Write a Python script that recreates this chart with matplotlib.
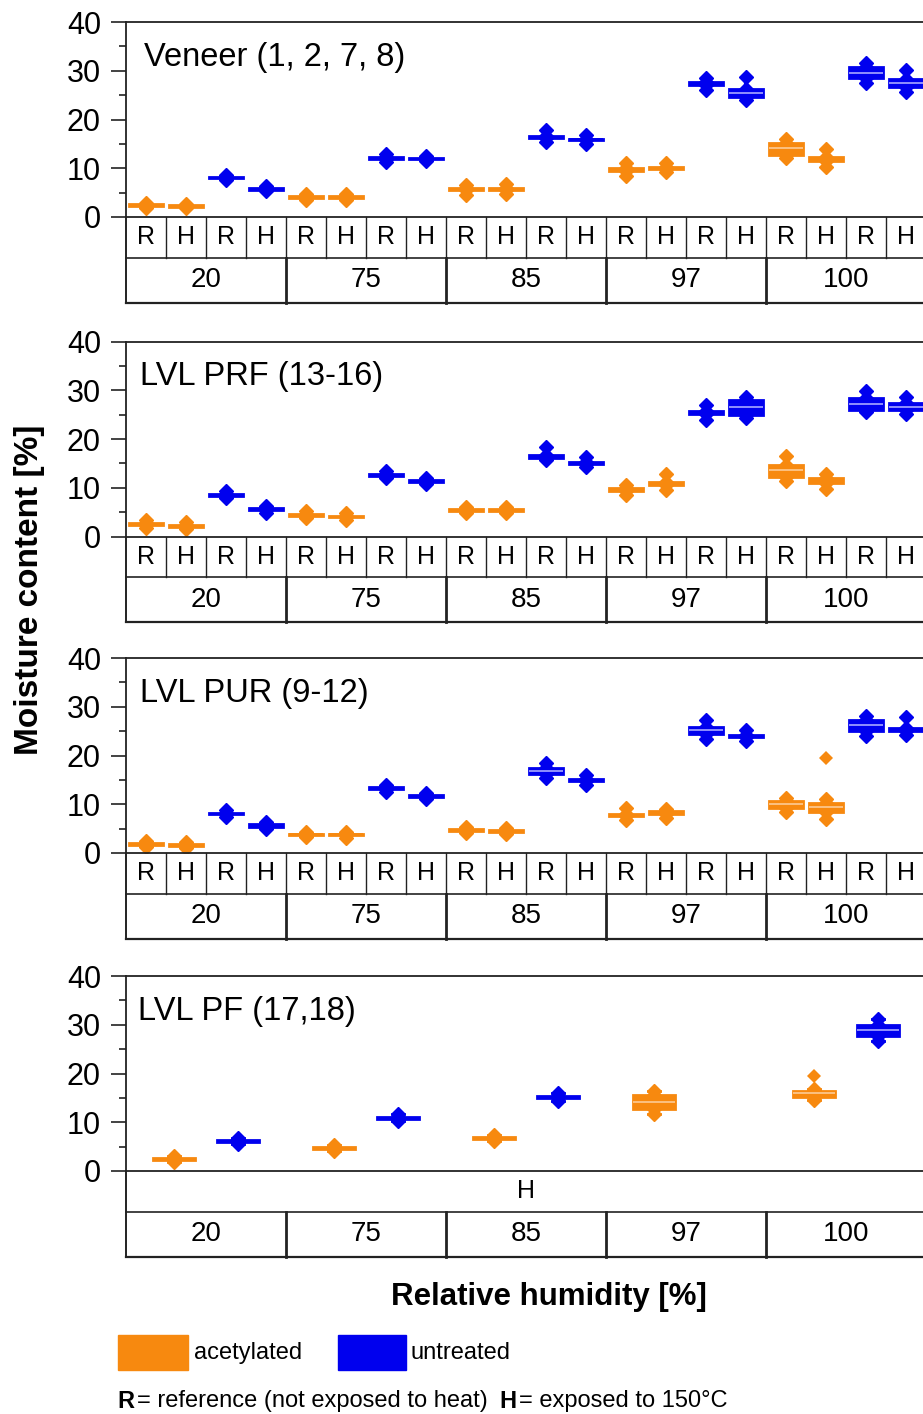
import numpy as np
import matplotlib
matplotlib.use('Agg')
import matplotlib.pyplot as plt
from matplotlib.patches import Rectangle

plt.rcParams['font.family'] = ['Liberation Sans', 'DejaVu Sans']

ORANGE = '#F7890F'
BLUE = '#0000EE'
ORANGE_LT = '#FCC58A'
BLUE_LT = '#9A9AFF'
LINE = '#222222'

# x categories
rh_levels = ['20', '75', '85', '97', '100']
treat_row = ['R', 'H', 'R', 'H']
# box order in each RH group: acetylated R, acetylated H, untreated R, untreated H
kind_row = ['a', 'a', 'u', 'u']

# Veneer (1, 2, 7, 8)
ven_med = [2.4, 2.3, 8.1, 5.8, 4.1, 4.1, 12.1, 12.0, 5.7, 5.8, 16.4, 15.9, 9.8, 10.1, 27.3, 25.5, 14.1, 11.9, 29.6, 27.4]
ven_q1 = [2.2, 2.1, 7.9, 5.6, 3.9, 3.9, 11.9, 11.8, 5.5, 5.6, 16.2, 15.7, 9.5, 9.9, 27.0, 24.6, 12.8, 11.4, 28.6, 26.6]
ven_q3 = [2.6, 2.5, 8.3, 6.0, 4.3, 4.3, 12.3, 12.2, 5.9, 6.0, 16.6, 16.1, 10.1, 10.3, 27.6, 26.3, 15.2, 12.3, 30.8, 28.4]
ven_lo = [1.9, 1.9, 7.5, 5.3, 3.4, 3.5, 11.2, 11.4, 4.6, 4.7, 15.3, 15.0, 8.4, 9.2, 26.0, 23.9, 12.2, 10.2, 27.4, 25.6]
ven_hi = [2.8, 2.7, 8.6, 6.3, 4.7, 4.7, 13.0, 12.6, 6.5, 6.7, 17.8, 16.8, 11.1, 11.1, 28.6, 28.8, 15.9, 14.0, 31.6, 30.2]

# LVL PRF (13-16)
prf_med = [2.6, 2.2, 8.6, 5.6, 4.5, 4.1, 12.7, 11.3, 5.5, 5.5, 16.4, 15.1, 9.6, 10.8, 25.5, 26.6, 13.6, 11.5, 27.1, 26.6]
prf_q1 = [2.4, 2.0, 8.4, 5.4, 4.3, 3.9, 12.5, 11.1, 5.3, 5.3, 16.1, 14.9, 9.3, 10.5, 25.2, 25.0, 12.3, 11.0, 25.9, 26.0]
prf_q3 = [2.8, 2.4, 8.8, 5.8, 4.7, 4.3, 12.9, 11.5, 5.7, 5.7, 16.7, 15.3, 9.9, 11.1, 25.8, 27.9, 14.7, 11.9, 28.4, 27.3]
prf_lo = [1.8, 1.5, 8.0, 4.9, 3.7, 3.4, 12.0, 10.7, 4.9, 4.9, 15.6, 14.2, 8.6, 9.6, 24.0, 24.3, 11.3, 9.8, 25.5, 25.2]
prf_hi = [3.3, 2.9, 9.3, 6.3, 5.2, 4.8, 13.4, 11.9, 6.1, 6.1, 18.3, 16.3, 10.6, 12.8, 26.9, 28.7, 16.6, 12.8, 29.9, 28.6]

# LVL PUR (9-12)
pur_med = [1.8, 1.6, 8.1, 5.7, 3.8, 3.8, 13.3, 11.6, 4.8, 4.6, 16.8, 14.9, 7.8, 8.3, 25.3, 24.0, 10.0, 9.4, 26.2, 25.3]
pur_q1 = [1.6, 1.4, 7.9, 5.4, 3.6, 3.6, 13.1, 11.4, 4.6, 4.4, 16.2, 14.7, 7.5, 8.0, 24.4, 23.8, 9.3, 8.4, 25.0, 25.0]
pur_q3 = [2.0, 1.8, 8.3, 6.0, 4.0, 4.0, 13.5, 11.8, 5.0, 4.8, 17.4, 15.1, 8.1, 8.6, 25.9, 24.2, 10.6, 10.2, 27.3, 25.6]
pur_lo = [1.2, 1.0, 7.4, 5.0, 3.2, 3.1, 12.6, 11.0, 4.2, 4.0, 15.3, 13.9, 6.8, 7.2, 23.4, 22.9, 8.4, 7.0, 24.1, 24.3]
pur_hi = [2.4, 2.2, 8.9, 6.4, 4.4, 4.4, 14.0, 12.3, 5.4, 5.2, 18.4, 16.0, 9.2, 9.0, 27.3, 25.2, 11.2, 11.0, 28.1, 27.8]
pur_fliers = {17: [19.5]}

# LVL PF (17,18) - only H, one or two boxes per RH
pf_group = [0, 0, 1, 1, 2, 2, 3, 4, 4]
pf_kind = ['a', 'u', 'a', 'u', 'a', 'u', 'a', 'a', 'u']
pf_med = [2.5, 6.1, 4.8, 10.9, 6.8, 15.2, 14.2, 15.9, 28.9]
pf_q1 = [2.3, 5.9, 4.6, 10.7, 6.6, 15.0, 12.7, 15.2, 27.7]
pf_q3 = [2.7, 6.3, 5.0, 11.1, 7.0, 15.4, 15.6, 16.4, 30.0]
pf_lo = [1.9, 5.5, 4.2, 10.2, 6.2, 14.3, 11.6, 14.6, 26.6]
pf_hi = [3.1, 6.7, 5.4, 11.6, 7.4, 16.1, 16.5, 16.8, 31.2]
pf_fliers = {7: [19.5]}


def draw_boxes(ax, med, q1, q3, lo, hi, pos, kinds, width, fliers):
    stats = []
    for i in range(len(med)):
        stats.append(dict(med=med[i], q1=q1[i], q3=q3[i], whislo=lo[i], whishi=hi[i],
                          fliers=fliers.get(i, [])))
    bp = ax.bxp(stats, positions=pos, widths=width, patch_artist=True, showfliers=True,
                capwidths=width * 0.3,
                whiskerprops=dict(linewidth=3, marker='D', markersize=7),
                capprops=dict(linewidth=2),
                medianprops=dict(linewidth=1.3),
                flierprops=dict(marker='D', markersize=7, markeredgewidth=0),
                boxprops=dict(linewidth=2))
    for i in range(len(med)):
        c = ORANGE if kinds[i] == 'a' else BLUE
        lt = ORANGE_LT if kinds[i] == 'a' else BLUE_LT
        bp['boxes'][i].set_facecolor(c)
        bp['boxes'][i].set_edgecolor(c)
        for ln in bp['whiskers'][2 * i:2 * i + 2] + bp['caps'][2 * i:2 * i + 2]:
            ln.set_color(c)
            ln.set_markerfacecolor(c)
            ln.set_markeredgecolor(c)
        bp['medians'][i].set_color(lt if q3[i] - q1[i] > 1.0 else c)
        bp['fliers'][i].set_markerfacecolor(c)


def style_axis(ax, title, tx):
    ax.set_xlim(0, 20)
    ax.set_ylim(0, 40)
    ax.set_xticks([])
    ax.set_yticks([0, 10, 20, 30, 40])
    ax.set_yticks([5, 15, 25, 35], minor=True)
    ax.tick_params(axis='y', which='major', direction='out', length=11, width=1.2,
                   labelsize=22, pad=7, color=LINE)
    ax.tick_params(axis='y', which='minor', direction='out', length=5, width=1.2, color=LINE)
    for s in ax.spines.values():
        s.set_linewidth(1.3)
        s.set_color(LINE)
    ax.text(tx, 0.82, title, transform=ax.get_xaxis_transform(), fontsize=23.5,
            ha='left', va='center')


def draw_table(ax, full):
    tr = ax.get_xaxis_transform()
    r1 = -0.21
    r2 = -0.44
    kw = dict(transform=tr, clip_on=False, color=LINE)
    ax.plot([0, 20], [r1, r1], lw=1.2, **kw)
    ax.plot([0, 20], [r2, r2], lw=1.6, **kw)
    ax.plot([0, 0], [0, r2], lw=1.4, **kw)
    ax.plot([20, 20], [0, r2], lw=1.4, **kw)
    for k in range(1, 20):
        if full:
            ax.plot([k, k], [0, r1], lw=1.0, **kw)
        if k % 4 == 0:
            ax.plot([k, k], [r1, r2], lw=2.0, **kw)
    if full:
        for k in range(20):
            ax.text(k + 0.5, r1 / 2, treat_row[k % 4], transform=tr, fontsize=18,
                    ha='center', va='center')
    else:
        ax.text(10, r1 / 2, 'H', transform=tr, fontsize=18, ha='center', va='center')
    for g in range(5):
        ax.text(4 * g + 2, (r1 + r2) / 2, rh_levels[g], transform=tr, fontsize=20,
                ha='center', va='center')


W, H = 923, 1414
fig = plt.figure(figsize=(W / 100, H / 100), dpi=100)

left = 126 / W
width = 800 / W
ax_h = 195 / H
bottoms = [217, 536.5, 853, 1171]
axes = [fig.add_axes([left, 1 - b / H, width, ax_h]) for b in bottoms]

slot_pos = [i + 0.5 for i in range(20)]
slot_kind = [kind_row[i % 4] for i in range(20)]

panels = [
    ('Veneer (1, 2, 7, 8)', 0.45, ven_med, ven_q1, ven_q3, ven_lo, ven_hi, {}),
    ('LVL PRF (13-16)', 0.35, prf_med, prf_q1, prf_q3, prf_lo, prf_hi, {}),
    ('LVL PUR (9-12)', 0.35, pur_med, pur_q1, pur_q3, pur_lo, pur_hi, pur_fliers),
]
for ax, (title, tx, med, q1, q3, lo, hi, fl) in zip(axes[:3], panels):
    draw_boxes(ax, med, q1, q3, lo, hi, slot_pos, slot_kind, 0.85, fl)
    style_axis(ax, title, tx)
    draw_table(ax, True)

pf_pos = [4 * g + (1.2 if k == 'a' else 2.8) for g, k in zip(pf_group, pf_kind)]
draw_boxes(axes[3], pf_med, pf_q1, pf_q3, pf_lo, pf_hi, pf_pos, pf_kind, 1.05, pf_fliers)
style_axis(axes[3], 'LVL PF (17,18)', 0.3)
draw_table(axes[3], False)

# axis labels
fig.text(30 / W, 1 - 590 / H, 'Moisture content [%]', rotation=90, fontsize=24,
         fontweight='bold', ha='center', va='center')
fig.text(549 / W, 1 - 1297 / H, 'Relative humidity [%]', fontsize=22.5,
         fontweight='bold', ha='center', va='center')

# legend
fig.patches.append(Rectangle((118 / W, 1 - 1370 / H), 70 / W, 35 / H,
                             transform=fig.transFigure, color=ORANGE))
fig.text(194 / W, 1 - 1353 / H, 'acetylated', fontsize=17, ha='left', va='center')
fig.patches.append(Rectangle((338 / W, 1 - 1370 / H), 68 / W, 35 / H,
                             transform=fig.transFigure, color=BLUE))
fig.text(410 / W, 1 - 1353 / H, 'untreated', fontsize=17, ha='left', va='center')

# footnote
fy = 1 - 1401 / H
fig.text(117 / W, fy, 'R', fontsize=17, fontweight='bold', ha='left', va='center')
fig.text(137 / W, fy, '= reference (not exposed to heat)', fontsize=17, ha='left',
         va='center')
fig.text(499 / W, fy, 'H', fontsize=17, fontweight='bold', ha='left', va='center')
fig.text(519 / W, fy, '= exposed to 150°C', fontsize=17, ha='left', va='center')

fig.savefig('out.png', dpi=100)
